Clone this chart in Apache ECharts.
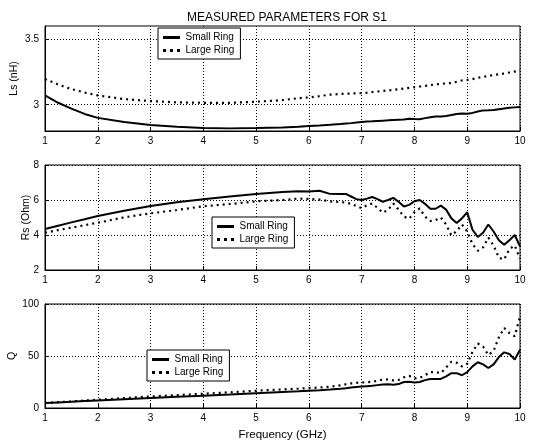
<!DOCTYPE html>
<html>
<head>
<meta charset="utf-8">
<script src="https://cdn.jsdelivr.net/npm/echarts@6/dist/echarts.min.js"></script>
<style>
  html, body { margin: 0; padding: 0; background: #fff; }
  #chart { width: 534px; height: 440px; }
</style>
</head>
<body>
<div id="chart"></div>
<script>
// frequency samples (GHz), shared by every curve
var freq = [1, 1.25, 1.5, 1.75, 2, 2.5, 3, 3.5, 4, 4.5, 5, 5.5, 5.8, 6, 6.2, 6.4, 6.6,
  6.7, 6.8, 6.9, 7.0, 7.1, 7.2, 7.3, 7.4, 7.5, 7.6, 7.7, 7.8, 7.9, 8.0, 8.1, 8.2, 8.3, 8.4,
  8.5, 8.6, 8.7, 8.8, 8.9, 9.0, 9.1, 9.2, 9.3, 9.4, 9.5, 9.6, 9.7, 9.8, 9.9, 10.0];

// Ls (nH)
var lsSmall = [3.071, 3.015, 2.97, 2.93, 2.90, 2.869, 2.846, 2.833, 2.823, 2.82, 2.822, 2.826, 2.833, 2.838, 2.842, 2.847, 2.853,
  2.857, 2.86, 2.864, 2.869, 2.872, 2.874, 2.877, 2.879, 2.881, 2.884, 2.886, 2.888, 2.893, 2.891, 2.89, 2.898, 2.905, 2.91,
  2.91, 2.915, 2.922, 2.93, 2.934, 2.932, 2.938, 2.948, 2.957, 2.958, 2.96, 2.966, 2.972, 2.978, 2.98, 2.982];
var lsLarge = [3.197, 3.154, 3.119, 3.093, 3.071, 3.043, 3.028, 3.018, 3.015, 3.015, 3.023, 3.035, 3.05, 3.056, 3.066, 3.077, 3.082,
  3.084, 3.085, 3.087, 3.088, 3.092, 3.097, 3.101, 3.105, 3.109, 3.113, 3.118, 3.124, 3.129, 3.134, 3.139, 3.144, 3.15, 3.155,
  3.159, 3.163, 3.165, 3.175, 3.185, 3.189, 3.195, 3.205, 3.213, 3.22, 3.227, 3.232, 3.238, 3.246, 3.253, 3.26];

// Rs (Ohm)
var rsSmall = [4.34, 4.53, 4.72, 4.9, 5.09, 5.39, 5.66, 5.87, 6.04, 6.2, 6.34, 6.46, 6.5, 6.48, 6.53, 6.35, 6.34,
  6.35, 6.2, 6.05, 6.0, 6.08, 6.17, 6.05, 5.9, 6.0, 6.12, 5.9, 5.63, 5.72, 5.93, 6.0, 5.78, 5.5, 5.5,
  5.68, 5.45, 4.95, 4.69, 4.95, 5.3, 4.3, 3.89, 4.13, 4.6, 4.2, 3.7, 3.44, 3.7, 4.0, 3.35];
var rsLarge = [4.13, 4.28, 4.42, 4.56, 4.70, 5.01, 5.24, 5.43, 5.64, 5.77, 5.92, 6.0, 6.08, 6.06, 6.02, 5.92, 5.88,
  5.85, 5.78, 5.65, 5.53, 5.7, 5.8, 5.55, 5.27, 5.44, 5.8, 5.45, 5.05, 4.93, 5.3, 5.52, 5.05, 4.8, 4.85,
  5.0, 4.6, 3.98, 4.22, 4.6, 4.2, 3.48, 3.1, 3.29, 3.85, 3.4, 2.7, 2.6, 3.2, 3.4, 2.65];

// Q
var qSmall = [4.8, 5.4, 6.0, 6.7, 7.3, 8.5, 9.6, 10.7, 11.8, 13.0, 14.3, 15.4, 16.1, 16.6, 17.1, 17.7, 18.5,
  19.0, 19.6, 20.2, 20.7, 21.0, 21.3, 22.0, 22.6, 22.8, 22.3, 23.0, 25.0, 25.3, 24.5, 25.0, 26.8, 27.8, 27.8,
  28.0, 30.5, 33.5, 33.5, 31.5, 34.5, 40.0, 44.0, 42.0, 38.5, 42.0, 49.0, 53.5, 52.0, 46.5, 56.0];
var qLarge = [4.8, 5.6, 6.4, 7.2, 8.0, 9.5, 11.1, 12.4, 13.7, 15.1, 16.6, 17.9, 18.6, 19.1, 19.7, 20.5, 21.8,
  22.8, 23.6, 24.2, 24.5, 24.8, 25.3, 26.2, 27.3, 27.5, 26.5, 27.0, 29.5, 30.9, 28.5, 29.0, 31.5, 34.5, 34.5,
  33.5, 39.0, 44.5, 43.5, 40.0, 42.5, 54.0, 62.0, 59.0, 51.0, 55.0, 68.0, 77.0, 72.0, 69.0, 88.0];

var seriesNames = ['Small Ring', 'Large Ring'];
var xTicks = [1, 10, 1]; // min, max, step

var font = 'Liberation Sans, Arial, Helvetica, sans-serif';
var gridLine = { show: true, lineStyle: { color: '#000', width: 1, type: [1, 2] } };

function pairs(arr) {
  return freq.map(function (f, i) { return [f, arr[i]]; });
}

function xAxisFor(idx, withName) {
  var ax = {
    type: 'value', gridIndex: idx,
    min: xTicks[0], max: xTicks[1], interval: xTicks[2],
    axisLine: { show: true, lineStyle: { color: '#000', width: 1 } },
    axisTick: { show: true, inside: true, length: 4, lineStyle: { color: '#000' } },
    axisLabel: { color: '#000', fontSize: 10, fontFamily: font, margin: 5, showMinLabel: true, showMaxLabel: true },
    splitLine: gridLine
  };
  if (withName) {
    ax.name = 'Frequency (GHz)';
    ax.nameLocation = 'middle';
    ax.nameGap = 21;
    ax.nameMoveOverlap = false;
    ax.nameTextStyle = { color: '#000', fontSize: 11.5, fontFamily: font };
  }
  return ax;
}

function yAxisFor(idx, name, gap, opts) {
  var ax = {
    type: 'value', gridIndex: idx,
    name: name, nameLocation: 'middle', nameGap: gap, nameRotate: 90,
    nameMoveOverlap: false,
    nameTextStyle: { color: '#000', fontSize: 10.5, fontFamily: font },
    axisLine: { show: true, lineStyle: { color: '#000', width: 1 } },
    axisTick: { show: true, inside: true, length: 4, lineStyle: { color: '#000' } },
    axisLabel: { color: '#000', fontSize: 10, fontFamily: font, margin: 6, showMinLabel: true, showMaxLabel: true },
    splitLine: gridLine
  };
  for (var k in opts) ax[k] = opts[k];
  return ax;
}

function lineSeries(name, idx, arr, dotted) {
  return {
    name: name, type: 'line', xAxisIndex: idx, yAxisIndex: idx,
    data: pairs(arr),
    symbol: 'none', animation: false,
    lineStyle: dotted ? { color: '#000', width: 2.2, type: [2, 4] } : { color: '#000', width: 2 },
    itemStyle: { color: '#000' }
  };
}

// legend swatches: a solid bar and three square dots
var solidIcon = 'path://M0,0h17v3h-17z';
var dotIcon = 'path://M0,0h3v3h-3z M7,0h3v3h-3z M14,0h3v3h-3z';

function legendAt(left, top) {
  return {
    data: [{ name: seriesNames[0], icon: solidIcon }, { name: seriesNames[1], icon: dotIcon }],
    orient: 'vertical', left: left, top: top,
    itemWidth: 18, itemHeight: 3, itemGap: 2,
    padding: [4, 6, 3, 5],
    borderColor: '#000', borderWidth: 1, backgroundColor: '#fff',
    textStyle: { color: '#000', fontSize: 10, fontFamily: font, lineHeight: 11 },
    selectedMode: false
  };
}

var gridBase = { left: 45, right: 14, show: true, borderColor: '#000', borderWidth: 1, outerBoundsMode: 'none', containLabel: false };
function gridAt(top, height) {
  var g = { top: top, height: height };
  for (var k in gridBase) g[k] = gridBase[k];
  return g;
}

var myChart = echarts.init(document.getElementById('chart'));
myChart.setOption({
  backgroundColor: '#fff',
  animation: false,
  title: {
    text: 'MEASURED PARAMETERS FOR S1',
    left: 282, textAlign: 'center', top: 7,
    textStyle: { color: '#000', fontSize: 12, fontWeight: 'normal', fontFamily: font }
  },
  grid: [gridAt(26, 105), gridAt(165, 105), gridAt(304, 104)],
  xAxis: [xAxisFor(0, false), xAxisFor(1, false), xAxisFor(2, true)],
  yAxis: [
    yAxisFor(0, 'Ls (nH)', 25, {
      min: 2.8, max: 3.6,
      axisLabel: { color: '#000', fontSize: 10, fontFamily: font, margin: 6, customValues: [3, 3.5] },
      axisTick: { show: true, inside: true, length: 4, lineStyle: { color: '#000' }, customValues: [3, 3.5] }
    }),
    yAxisFor(1, 'Rs (Ohm)', 13, { min: 2, max: 8, interval: 2 }),
    yAxisFor(2, 'Q', 27, { min: 0, max: 100, interval: 50 })
  ],
  legend: [legendAt(158, 28), legendAt(212, 217), legendAt(147, 350)],
  series: [
    lineSeries(seriesNames[0], 0, lsSmall, false),
    lineSeries(seriesNames[1], 0, lsLarge, true),
    lineSeries(seriesNames[0], 1, rsSmall, false),
    lineSeries(seriesNames[1], 1, rsLarge, true),
    lineSeries(seriesNames[0], 2, qSmall, false),
    lineSeries(seriesNames[1], 2, qLarge, true)
  ]
});
</script>
</body>
</html>
